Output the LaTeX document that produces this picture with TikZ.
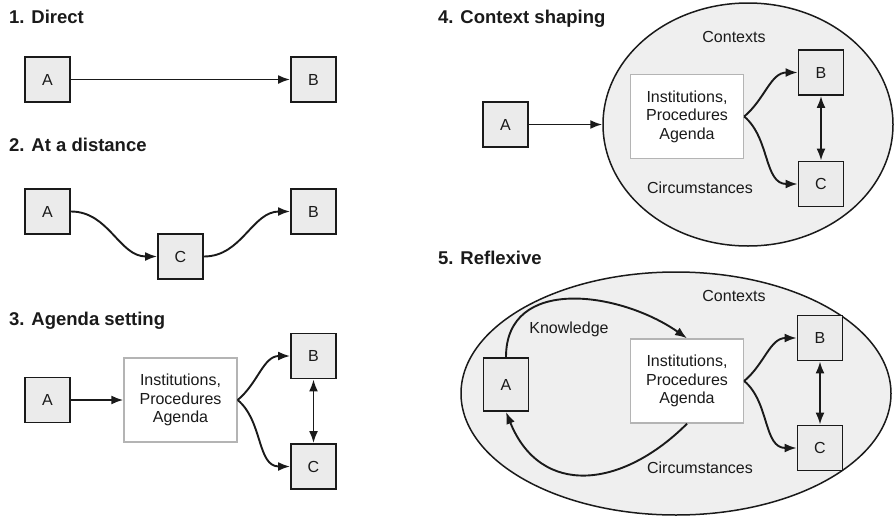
\documentclass[tikz,border=0pt]{standalone}
\usepackage{fontspec}
\setmainfont{Liberation Sans}
\usetikzlibrary{arrows.meta,shapes.geometric}

\definecolor{ink}{HTML}{1A1A1A}
\definecolor{boxfill}{HTML}{EBEBEB}
\definecolor{ctxfill}{HTML}{EFEFEF}
\definecolor{instline}{HTML}{B4B4B4}

\tikzset{
  lbl/.style={font=\fontsize{16}{18.5}\selectfont, text=ink},
  heading/.style={font=\fontsize{18.5}{22}\selectfont\bfseries, text=ink, anchor=base west, inner sep=0},
  actor/.style={lbl, draw=ink, line width=1.9pt, fill=boxfill, minimum width=45pt, minimum height=45pt, inner sep=0},
  inst/.style={lbl, draw=instline, line width=1.4pt, fill=white, minimum width=113pt, minimum height=84pt, align=center, inner sep=0},
  ctx/.style={draw=ink, line width=1.5pt, fill=ctxfill, ellipse, inner sep=0},
  flow/.style={draw=ink, line width=1.9pt, -{Latex[length=12pt,width=9pt]}},
  mutual/.style={draw=ink, line width=1.9pt, {Latex[length=12pt,width=9pt]}-{Latex[length=12pt,width=9pt]}},
  note/.style={lbl, anchor=base, inner sep=0},
}

\begin{document}
\begin{tikzpicture}[x=1pt,y=1pt]
\useasboundingbox (0,0) rectangle (895,-517);

% 1. Direct
\node[heading] (t1) at (9,-23) {1. Direct};
\node[actor] (a1) at (47.5,-79.5) {A};
\node[actor] (b1) at (313.5,-79.5) {B};
\draw[flow] (a1) -- (b1);

% 2. At a distance
\node[heading] (t2) at (9,-151) {2. At a distance};
\node[actor] (a2) at (47.5,-211.5) {A};
\node[actor] (c2) at (180.5,-256.5) {C};
\node[actor] (b2) at (313.5,-211.5) {B};
\draw[flow] (a2.east) to[out=0,in=180] (c2.west);
\draw[flow] (c2.east) to[out=0,in=180] (b2.west);

% 3. Agenda setting
\node[heading] (t3) at (9,-325) {3. Agenda setting};
\node[actor] (a3) at (47.5,-400) {A};
\node[inst] (i3) at (180.5,-400) {Institutions,\\Procedures\\Agenda};
\node[actor] (b3) at (313.5,-356) {B};
\node[actor] (c3) at (313.5,-466.5) {C};
\draw[flow] (a3) -- (i3);
\draw[flow] (i3.east) to[out=40,in=180] (b3.west);
\draw[flow] (i3.east) to[out=-40,in=180] (c3.west);
\draw[mutual] (b3) -- (c3);

% 4. Context shaping
\node[heading] (t4) at (438,-23) {4. Context shaping};
\node[ctx, minimum width=290pt, minimum height=243pt] (ctx4) at (748,-124.5) {};
\node[note] (k4) at (734,-42) {Contexts};
\node[note] (m4) at (700,-193) {Circumstances};
\node[actor] (a4) at (505.5,-124.5) {A};
\node[inst] (i4) at (687,-116.5) {Institutions,\\Procedures\\Agenda};
\node[actor] (b4) at (821,-72.5) {B};
\node[actor] (c4) at (821,-184) {C};
\draw[flow] (a4.east) -- (ctx4.west);
\draw[flow] (i4.east) to[out=40,in=180] (b4.west);
\draw[flow] (i4.east) to[out=-40,in=180] (c4.west);
\draw[mutual] (b4) -- (c4);

% 5. Reflexive
\node[heading] (t5) at (438,-264) {5. Reflexive};
\node[ctx, minimum width=430pt, minimum height=243pt] (ctx5) at (676,-393.5) {};
\node[note] (k5) at (734,-301) {Contexts};
\node[note] (n5) at (569,-333) {Knowledge};
\node[note] (m5) at (700,-473) {Circumstances};
\node[actor, minimum height=53pt] (a5) at (506,-384.5) {A};
\node[inst] (i5) at (687,-381) {Institutions,\\Procedures\\Agenda};
\node[actor] (b5) at (820,-338) {B};
\node[actor] (c5) at (820,-448) {C};
\draw[flow] (a5.north) to[out=90,in=145,looseness=1.15] (i5.north);
\draw[flow] (i5.south) to[out=225,in=-68,looseness=1.3] (a5.south);
\draw[flow] (i5.east) to[out=40,in=180] (b5.west);
\draw[flow] (i5.east) to[out=-40,in=180] (c5.west);
\draw[mutual] (b5) -- (c5);
\end{tikzpicture}
\end{document}
